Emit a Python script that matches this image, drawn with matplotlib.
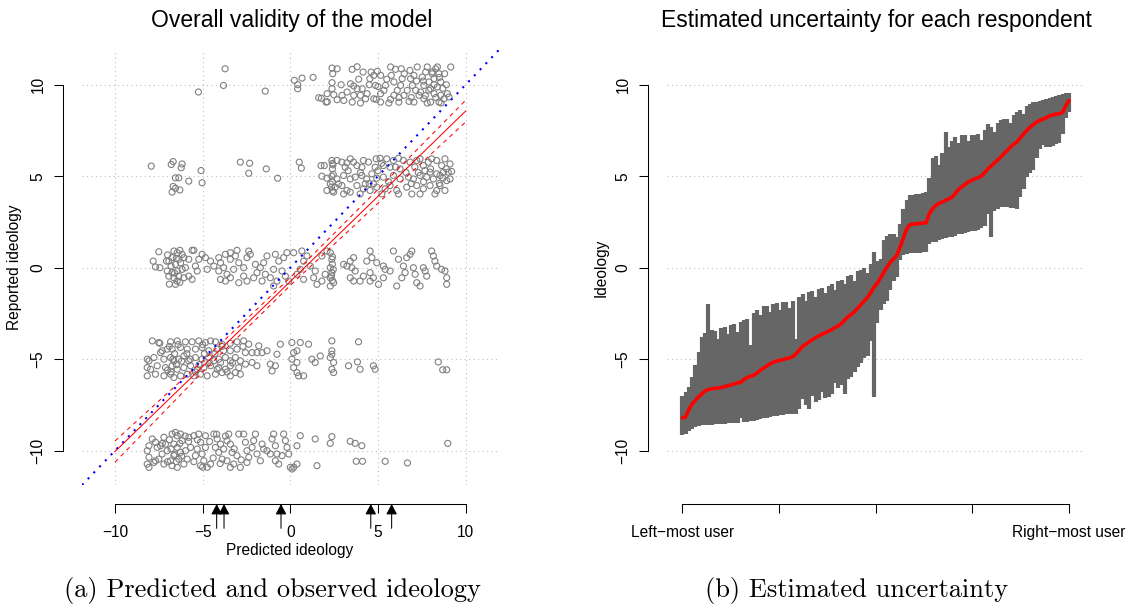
import matplotlib.pyplot as plt
import numpy as np

plt.rcParams['font.family'] = ['Liberation Sans', 'DejaVu Sans']

# ---------------- left panel: predicted vs reported ideology ----------------
# (predicted, reported + jitter), one list per reported level
pts_10 = [
    (-3.72, 10.87), (-3.81, 9.96), (-5.24, 9.60), (-1.43, 9.65), (0.23, 10.24), (0.67, 10.36), (0.42, 10.0),
    (0.42, 9.78), (1.30, 10.40), (1.62, 9.29), (2.04, 9.05), (2.38, 10.91), (2.67, 10.87), (2.42, 10.6),
    (2.38, 10.11), (2.90, 10.0), (2.38, 9.78), (2.48, 9.45), (2.67, 9.18), (3.05, 9.14), (3.53, 10.84),
    (3.81, 10.98), (4.15, 10.69), (4.61, 10.69), (4.76, 10.51), (4.96, 10.73), (5.15, 10.51), (4.54, 10.33),
    (3.43, 10.05), (3.62, 9.93), (3.81, 9.78), (4.10, 9.78), (3.62, 9.42), (4.00, 9.42), (3.53, 9.05),
    (4.38, 9.51), (4.29, 9.23), (4.76, 9.23), (5.15, 9.51), (5.43, 9.96), (5.34, 9.69), (4.86, 9.96),
    (5.72, 10.97), (6.0, 10.84), (6.33, 10.87), (5.76, 10.51), (5.91, 10.15), (6.29, 9.96), (6.10, 9.69),
    (5.91, 9.42), (5.72, 9.20), (5.62, 9.0), (6.19, 9.05), (6.77, 9.09), (6.82, 10.78), (7.24, 10.97),
    (7.05, 10.51), (6.86, 10.33), (6.96, 9.96), (6.67, 9.69), (7.15, 9.69), (7.34, 9.42), (7.62, 9.23),
    (7.81, 10.97), (7.72, 10.69), (8.10, 10.6), (7.53, 10.42), (7.91, 10.15), (7.62, 9.96), (7.43, 9.6),
    (8.0, 9.78), (8.29, 10.87), (8.39, 10.97), (8.48, 10.6), (8.20, 10.33), (8.58, 10.15), (8.39, 9.87),
    (8.20, 9.51), (8.58, 9.42), (8.77, 9.23), (8.48, 9.05), (8.96, 9.51), (9.15, 10.97), (9.05, 9.33),
    (8.0, 9.05), (7.81, 9.0), (7.05, 9.05), (6.48, 9.42), (6.38, 10.33), (5.15, 9.05), (4.0, 9.0),
    (3.24, 9.6), (2.95, 9.42), (2.10, 9.51), (1.77, 9.26), (2.11, 9.07),
    (7.6, 10.2), (7.9, 9.7), (8.2, 10.0), (8.5, 10.4), (8.7, 9.8), (8.3, 9.3), (7.7, 9.4), (8.8, 10.6),
    (6.5, 10.6), (6.9, 9.3), (7.2, 10.2), (5.5, 10.3), (5.0, 9.9), (4.5, 10.0), (3.9, 10.3), (4.9, 9.2),
    (6.2, 9.3), (8.1, 10.7), (8.6, 9.0), (8.9, 10.0),
]
pts_5 = [
    (-7.93, 5.55), (-6.79, 5.64), (-6.68, 5.80), (-6.17, 5.67), (-6.22, 5.46), (-5.09, 5.31), (-6.55, 4.91),
    (-6.36, 4.91), (-5.79, 4.73), (-5.03, 4.64), (-6.68, 4.44), (-6.55, 4.34), (-6.30, 4.25), (-6.74, 4.13),
    (-2.85, 5.77), (-2.32, 5.71), (-1.37, 5.40), (-2.37, 5.16), (-0.72, 4.89), (0.51, 5.77), (0.63, 5.44),
    (1.75, 5.58), (1.94, 5.58), (2.37, 5.86), (2.43, 5.62), (2.66, 5.86), (2.94, 5.77), (3.23, 5.73),
    (3.13, 5.49), (3.42, 5.95), (3.61, 5.77), (3.80, 5.58), (4.17, 5.86), (4.08, 5.49), (4.46, 5.77),
    (4.90, 5.95), (5.12, 5.98), (4.84, 5.49), (5.31, 5.58), (5.50, 5.95), (5.88, 5.86), (6.17, 5.98),
    (5.69, 5.49), (6.45, 5.86), (6.26, 5.40), (6.83, 5.77), (7.21, 5.86), (7.40, 5.95), (7.59, 5.58),
    (7.87, 5.77), (8.06, 5.95), (8.35, 5.86), (8.63, 5.58), (8.82, 5.95), (9.11, 5.67), (7.68, 5.31),
    (7.97, 5.22), (8.35, 5.13), (8.73, 5.22), (9.01, 5.22), (9.20, 5.26), (1.80, 5.0), (2.09, 4.89),
    (2.37, 5.0), (2.66, 4.85), (3.04, 5.04), (3.42, 4.85), (3.70, 4.95), (4.08, 5.04), (4.36, 4.85),
    (4.65, 5.13), (4.93, 4.89), (5.31, 4.95), (5.88, 5.04), (6.26, 4.85), (6.74, 4.95), (7.02, 4.85),
    (7.40, 5.04), (7.78, 4.95), (8.16, 4.85), (8.54, 5.04), (8.92, 4.76), (9.11, 4.85), (2.28, 4.58),
    (2.56, 4.40), (2.09, 4.22), (2.47, 4.13), (2.94, 4.49), (3.23, 4.22), (3.42, 4.13), (3.80, 4.49),
    (4.17, 4.31), (3.98, 4.03), (4.55, 4.22), (4.93, 4.40), (5.22, 4.03), (5.69, 4.49), (6.07, 4.22),
    (6.64, 4.40), (6.93, 4.03), (7.21, 4.49), (7.59, 4.31), (7.97, 4.49), (8.35, 4.22), (8.54, 4.49),
    (8.82, 4.22), (8.25, 4.03), (7.40, 4.03), (6.17, 4.03), (5.41, 4.31), (4.74, 4.58), (4.27, 4.58),
    (3.04, 4.03), (2.75, 4.58),
    (2.4, 5.7), (2.4, 5.4), (2.45, 5.1), (2.4, 4.7), (2.35, 4.4), (2.4, 4.2), (4.0, 5.2), (4.5, 4.6),
    (5.0, 5.3), (5.6, 4.7), (6.0, 5.5), (6.6, 5.2), (7.1, 5.5), (7.6, 4.7), (8.0, 5.4), (8.5, 4.6),
    (8.9, 5.4), (3.3, 5.3), (6.9, 4.6), (7.3, 5.2), (8.7, 4.9), (5.2, 5.7),
]
pts_0 = [
    (-7.50, 0.87), (-7.82, 0.36), (-7.69, 0.04), (-7.44, 0.0), (-7.06, 0.36), (-6.93, 0.36), (-6.74, 0.55),
    (-6.64, 0.91), (-6.45, 0.82), (-6.30, 0.95), (-6.17, 0.73), (-6.36, 0.46), (-6.55, 0.18), (-6.26, 0.27),
    (-6.07, 0.55), (-5.60, 0.95), (-5.50, 0.95), (-5.79, 0.46), (-5.98, 0.0), (-6.17, -0.09), (-6.45, -0.18),
    (-6.74, -0.27), (-6.93, -0.46), (-7.02, -0.18), (-6.64, -0.55), (-6.45, -0.73), (-6.55, -0.91),
    (-6.36, -0.46), (-6.07, -0.55), (-5.79, -0.46), (-5.60, -0.64), (-5.31, -0.18), (-5.41, 0.09),
    (-5.22, 0.46), (-5.03, 0.73), (-4.84, 0.55), (-4.55, 0.36), (-4.74, -0.09), (-4.36, 0.09), (-4.08, 0.55),
    (-3.98, 0.27), (-3.70, 0.73), (-3.42, 0.82), (-3.04, 0.95), (-3.13, 0.64), (-3.42, 0.46), (-3.80, 0.0),
    (-4.08, -0.18), (-3.61, -0.36), (-3.98, -0.64), (-3.70, -0.73), (-3.42, -0.55), (-3.23, -0.09),
    (-2.94, 0.27), (-2.66, 0.0), (-2.47, 0.55), (-2.28, 0.73), (-2.37, 0.91), (-2.66, -0.46), (-2.47, -0.73),
    (-2.94, -0.82), (-2.09, -0.55), (-1.90, -0.27), (-1.99, 0.18), (-1.71, 0.0), (-1.52, 0.27), (-1.33, 0.64),
    (-1.42, -0.36), (-1.61, -0.73), (-1.14, -0.55), (-0.95, -0.09), (-0.85, 0.73), (-0.66, 0.36),
    (-0.38, 0.55), (-0.19, 0.82), (0.19, 0.82), (-0.47, -0.18), (-0.28, -0.46), (-0.76, -0.73), (-0.95, -1.0),
    (-0.09, -0.73), (0.38, -0.36), (0.57, -0.09), (0.76, 0.36), (0.95, 0.64), (0.66, 0.91), (1.14, 0.09),
    (1.33, -0.55), (1.42, -0.18), (1.80, 0.64), (2.09, 0.91), (2.28, 0.82), (2.37, 0.46), (2.28, 0.0),
    (2.37, -0.27), (2.28, -0.55), (2.47, -0.82), (2.28, -1.0), (1.99, -0.36), (1.80, -0.73), (1.52, -0.91),
    (0.76, -0.64), (3.04, 0.18), (3.23, 0.09), (3.42, 0.36), (3.61, 0.55), (3.51, 0.0), (3.70, -0.18),
    (3.42, -0.55), (3.61, -0.73), (3.98, -0.73), (4.17, -0.46), (4.36, 0.36), (4.55, 0.91), (4.65, 0.55),
    (4.93, 0.27), (4.55, -0.27), (4.74, -0.55), (4.55, -0.73), (5.03, -0.91), (5.31, 0.09), (5.41, -0.09),
    (5.88, 0.91), (6.17, 0.46), (6.45, 0.09), (6.64, 0.55), (6.83, 0.73), (6.93, 0.91), (7.02, 0.0),
    (6.55, -0.27), (6.36, -0.55), (6.07, -1.0), (7.12, -0.36), (7.21, -0.82), (7.59, 0.0), (7.69, -0.18),
    (7.78, -0.46), (8.06, 0.91), (8.16, 0.64), (8.25, 0.36), (8.35, 0.09), (8.63, -0.09), (8.82, -0.18),
    (8.92, -0.55), (8.92, -0.91), (7.40, -1.0), (5.31, -0.55), (5.69, -0.18),
    (2.4, 0.6), (2.4, 0.2), (2.45, -0.1), (2.35, -0.45), (2.4, -0.7), (-6.8, 0.1), (-6.6, -0.3),
    (-7.0, 0.7), (-6.3, -0.8), (-6.9, -0.9), (-6.5, 0.5),
]
pts_m5 = [
    (-7.87, -4.0), (-7.50, -4.09), (-7.44, -4.13), (-6.83, -4.05), (-6.45, -4.0), (-5.98, -4.05),
    (-5.60, -4.05), (-5.22, -4.0), (-4.84, -4.09), (-4.55, -4.0), (-4.27, -4.05), (-3.89, -4.18),
    (-3.42, -4.13), (-3.04, -4.05), (-2.66, -4.0), (-2.37, -4.18), (-1.80, -4.27), (-1.33, -4.54),
    (-0.76, -4.73), (-0.57, -4.18), (-7.31, -4.54), (-7.40, -4.64), (-7.02, -4.45), (-6.74, -4.45),
    (-6.26, -4.36), (-5.88, -4.45), (-5.41, -4.45), (-5.03, -4.36), (-4.65, -4.54), (-4.17, -4.45),
    (-3.80, -4.54), (-3.42, -4.54), (-3.04, -4.45), (-2.56, -4.64), (-2.18, -4.64), (-1.90, -4.64),
    (-1.61, -4.64), (-8.16, -5.0), (-8.06, -5.09), (-7.78, -4.91), (-7.21, -5.0), (-6.83, -4.91),
    (-6.64, -5.09), (-6.36, -5.0), (-6.07, -4.82), (-5.79, -5.09), (-5.41, -4.91), (-5.03, -5.0),
    (-4.65, -4.91), (-4.36, -5.09), (-4.08, -5.0), (-3.70, -4.91), (-3.42, -5.09), (-3.13, -4.91),
    (-2.85, -5.09), (-8.16, -5.46), (-7.97, -5.55), (-7.59, -5.36), (-7.12, -5.46), (-6.74, -5.36),
    (-6.45, -5.55), (-6.07, -5.46), (-5.69, -5.36), (-5.31, -5.55), (-4.93, -5.46), (-4.55, -5.36),
    (-4.08, -5.46), (-3.70, -5.55), (-3.42, -5.36), (-2.94, -5.46), (-2.56, -5.27), (-2.18, -5.18),
    (-1.90, -5.36), (-1.14, -5.27), (-1.04, -5.64), (-0.85, -5.36), (-8.16, -5.91), (-7.69, -5.82),
    (-7.21, -5.91), (-6.83, -5.82), (-6.64, -6.0), (-6.26, -5.91), (-5.88, -5.82), (-5.50, -5.91),
    (-5.12, -5.82), (-4.74, -5.91), (-4.27, -5.82), (-3.89, -5.73), (-3.42, -5.91), (-3.13, -5.73),
    (-2.85, -5.82), (-4.17, -5.55), (-3.98, -5.18), (0.09, -4.09), (0.57, -4.09), (1.04, -4.18),
    (2.37, -4.0), (3.89, -4.05), (0.19, -4.64), (0.38, -4.54), (2.37, -4.54), (2.37, -4.73), (0.09, -5.0),
    (0.38, -5.18), (1.23, -5.0), (1.42, -5.18), (1.71, -4.82), (2.28, -4.91), (2.47, -5.18), (3.32, -5.36),
    (3.83, -5.15), (3.98, -5.55), (4.74, -5.36), (4.84, -5.55), (0.19, -5.46), (0.38, -5.73), (0.47, -5.91),
    (0.76, -5.91), (2.37, -5.55), (2.47, -5.73), (8.44, -5.15), (8.69, -5.58), (8.92, -5.58),
    (-6.9, -4.3), (-6.6, -4.7), (-6.5, -5.3), (-6.8, -5.7), (-6.2, -5.1), (-5.9, -4.7), (-5.4, -5.7),
    (-5.0, -4.2), (-4.6, -5.2), (-4.3, -4.7), (-3.9, -4.3), (-3.6, -5.7), (-6.7, -5.0), (-6.4, -4.2),
    (-7.0, -5.6), (-5.7, -5.0), (-5.2, -5.3), (-4.9, -4.7), (-3.3, -5.2), (-2.7, -4.3),
]
pts_m10 = [
    (-7.87, -9.36), (-8.06, -9.73), (-8.16, -10.0), (-8.06, -10.36), (-8.16, -10.73), (-8.06, -10.91),
    (-7.69, -9.54), (-7.59, -9.82), (-7.40, -9.73), (-7.21, -9.27), (-7.12, -9.64), (-7.02, -10.0),
    (-7.31, -10.18), (-7.69, -10.55), (-7.50, -10.46), (-7.78, -10.64), (-7.21, -10.73), (-6.83, -10.55),
    (-6.74, -9.09), (-6.55, -9.0), (-6.45, -9.18), (-6.26, -9.09), (-6.17, -9.45), (-6.64, -9.64),
    (-6.45, -9.82), (-6.26, -10.09), (-6.64, -10.27), (-6.36, -10.46), (-6.74, -10.82), (-6.45, -10.91),
    (-6.07, -10.73), (-5.88, -10.46), (-5.98, -10.0), (-5.69, -9.82), (-5.79, -9.27), (-5.50, -9.18),
    (-5.22, -9.09), (-5.12, -9.54), (-5.31, -9.91), (-5.41, -10.27), (-5.03, -10.18), (-4.84, -9.82),
    (-4.93, -10.55), (-5.12, -10.82), (-4.74, -10.91), (-4.55, -10.73), (-4.84, -9.18), (-4.36, -9.09),
    (-4.17, -9.36), (-3.98, -9.64), (-4.27, -9.82), (-4.08, -10.09), (-3.80, -9.91), (-3.89, -10.46),
    (-3.61, -10.55), (-3.51, -9.09), (-3.61, -9.45), (-3.42, -9.64), (-3.32, -10.09), (-3.04, -10.27),
    (-3.23, -10.73), (-3.42, -10.91), (-2.85, -10.91), (-2.94, -9.09), (-2.66, -9.09), (-2.56, -9.54),
    (-2.47, -10.0), (-2.37, -10.36), (-2.47, -10.64), (-2.18, -9.82), (-1.99, -9.09), (-2.09, -9.45),
    (-1.90, -10.18), (-1.71, -10.55), (-1.61, -9.64), (-1.52, -9.91), (-1.33, -10.0), (-1.14, -10.18),
    (-0.95, -9.09), (-1.04, -9.36), (-0.85, -9.73), (-0.76, -10.18), (-0.85, -10.55), (-0.66, -10.73),
    (-0.47, -10.27), (-0.38, -9.09), (-0.28, -9.45), (-0.19, -9.82), (-0.09, -10.18), (0.0, -10.91),
    (0.38, -9.73), (0.57, -9.18), (0.38, -10.73), (1.42, -9.36), (1.52, -10.82), (2.37, -9.23),
    (2.28, -9.60), (3.42, -9.49), (3.70, -9.60), (4.08, -9.73), (3.76, -10.58), (4.12, -10.58),
    (5.41, -10.58), (6.68, -10.67), (8.98, -9.60), (0.1, -11.0), (0.2, -10.9),
    (-6.9, -9.4), (-6.6, -10.2), (-6.3, -9.6), (-7.0, -10.6), (-6.5, -10.6), (-6.2, -10.3), (-5.8, -9.5),
    (-5.5, -10.6), (-5.3, -9.4), (-4.6, -9.5), (-4.4, -10.4), (-4.0, -10.7), (-3.7, -9.2), (-3.2, -9.9),
    (-2.8, -10.5), (-6.8, -9.9), (-7.3, -9.6), (-6.0, -9.2), (-5.0, -10.9), (-4.2, -9.1),
]

# fitted line with its band
fit_x = [-10, -5, 0, 5, 10]
fit_y = [-10.05, -5.40, -0.75, 3.90, 8.56]
fit_lo = [-10.63, -5.70, -0.97, 3.52, 7.96]
fit_hi = [-9.47, -5.10, -0.53, 4.28, 9.15]

# arrows under the x axis
party_pos = [-4.20, -3.78, -0.53, 4.59, 5.78]

# ---------------- right panel: uncertainty per respondent (sorted) ----------------
est = [-8.20, -8.16, -7.75, -7.45, -7.25, -7.05, -6.90, -6.73, -6.66, -6.62,
       -6.59, -6.57, -6.55, -6.50, -6.45, -6.40, -6.35, -6.30, -6.25, -6.10,
       -6.00, -5.93, -5.87, -5.75, -5.60, -5.48, -5.37, -5.25, -5.17, -5.10,
       -5.06, -5.02, -4.97, -4.92, -4.86, -4.70, -4.50, -4.30, -4.18, -4.05,
       -3.93, -3.82, -3.72, -3.64, -3.55, -3.47, -3.38, -3.27, -3.18, -3.05,
       -2.85, -2.68, -2.55, -2.40, -2.20, -2.00, -1.82, -1.62, -1.35, -1.05,
       -0.85, -0.55, -0.25, 0.03, 0.30, 0.49, 0.67, 1.13, 1.60, 2.10,
       2.35, 2.38, 2.40, 2.42, 2.44, 2.45, 2.95, 3.22, 3.40, 3.52,
       3.59, 3.68, 3.76, 3.86, 4.05, 4.28, 4.42, 4.55, 4.68, 4.78,
       4.86, 4.92, 5.00, 5.20, 5.40, 5.55, 5.72, 5.88, 6.05, 6.25,
       6.41, 6.60, 6.75, 6.88, 7.10, 7.30, 7.50, 7.68, 7.82, 7.96,
       8.05, 8.12, 8.20, 8.30, 8.34, 8.40, 8.41, 8.50, 8.85, 9.14]
hi = [-7.0, -6.8, -6.5, -6.0, -5.3, -4.6, -3.8, -3.55, -1.97, -3.4,
      -3.45, -3.9, -3.3, -3.25, -3.6, -3.15, -3.1, -3.5, -2.95, -2.88,
      -2.8, -4.2, -2.5, -2.33, -2.6, -2.1, -2.1, -2.4, -2.0, -1.95,
      -2.3, -1.88, -1.85, -2.2, -1.8, -3.9, -1.6, -1.45, -1.8, -1.35,
      -1.25, -1.6, -1.15, -1.1, -1.4, -1.0, -0.9, -1.2, -0.72, -0.65,
      -0.9, -0.45, -0.38, -0.7, -0.2, -0.1, 0.0, -0.3, 0.2, 0.85,
      0.35, 0.5, 1.5, 1.75, 1.85, 1.86, 1.7, 2.4, 3.2, 3.7,
      3.95, 4.0, 4.02, 4.04, 4.08, 4.12, 4.9, 6.0, 6.1, 5.6,
      6.25, 7.41, 6.6, 6.9, 7.15, 6.8, 7.23, 7.23, 6.9, 7.25,
      7.25, 7.3, 7.0, 7.5, 7.86, 7.7, 7.4, 7.9, 8.05, 8.1,
      8.15, 7.9, 8.35, 8.5, 8.6, 8.4, 8.85, 8.95, 9.05, 9.05,
      9.1, 9.15, 9.2, 9.28, 9.32, 9.38, 9.45, 9.5, 9.52, 9.55]
lo = [-9.15, -9.1, -8.95, -8.8, -8.7, -8.65, -8.62, -8.6, -8.58, -8.57,
      -8.56, -8.55, -8.54, -8.53, -8.5, -8.49, -8.48, -8.47, -8.2, -8.45,
      -8.44, -8.4, -8.36, -8.32, -8.28, -8.24, -8.2, -8.15, -8.12, -8.08,
      -8.05, -8.03, -8.01, -8.0, -7.98, -7.98, -7.7, -7.2, -7.5, -7.7,
      -7.0, -7.34, -7.25, -6.8, -7.1, -7.05, -6.9, -6.3, -6.6, -6.4,
      -6.9, -6.1, -6.0, -5.7, -5.4, -5.2, -4.95, -4.8, -4.0, -7.07,
      -3.0, -2.3, -2.0, -1.8, -1.2, -0.7, -0.5, 0.4, 0.7, 0.76,
      0.78, 0.8, 0.8, 0.82, 0.84, 0.85, 1.3, 1.38, 1.42, 1.5,
      1.55, 1.6, 1.66, 1.7, 1.75, 1.82, 1.86, 1.9, 1.95, 1.98,
      2.0, 2.05, 2.15, 2.3, 2.95, 1.67, 3.1, 3.2, 3.3, 3.31,
      3.3, 3.28, 3.25, 3.22, 3.86, 4.3, 4.95, 5.2, 5.32, 6.0,
      6.5, 6.7, 6.6, 6.59, 6.65, 6.75, 6.8, 7.3, 8.2, 8.5]
rank = np.arange(len(est)) / (len(est) - 1)

# ---------------- figure ----------------
W, H = 1128, 607
fig = plt.figure(figsize=(W / 100, H / 100), dpi=100)


def px_box(x0, y0, x1, y1):
    return [x0 / W, 1 - y1 / H, (x1 - x0) / W, (y1 - y0) / H]


def fx(x):
    return x / W


def fy(y):
    return 1 - y / H


ax1 = fig.add_axes(px_box(82.0, 50.3, 498.6, 485.1))
ax2 = fig.add_axes(px_box(666.9, 50.3, 1084.5, 485.1))

grid_kw = dict(color='#bebebe', lw=0.8, linestyle=(0, (1, 3)), zorder=0)
ticks = [-10, -5, 0, 5, 10]
tick_lab = ['\u221210', '\u22125', '0', '5', '10']


def style_axes(ax):
    for s in ('top', 'right'):
        ax.spines[s].set_visible(False)
    for s in ('left', 'bottom'):
        ax.spines[s].set_linewidth(0.75)
    ax.spines['left'].set_position(('outward', 13.4))
    ax.spines['bottom'].set_position(('outward', 13.6))
    ax.spines['left'].set_bounds(-10, 10)
    ax.set_ylim(-11.88, 11.88)
    ax.set_yticks(ticks, labels=tick_lab, rotation=90, va='center')
    ax.tick_params(direction='out', length=6.8, width=0.75, labelsize=11.2, colors='black')
    ax.tick_params(axis='y', pad=6)
    ax.tick_params(axis='x', pad=8.5)
    for y in ticks:
        ax.axhline(y, **grid_kw)


# left panel
style_axes(ax1)
ax1.set_xlim(-11.88, 11.88)
ax1.spines['bottom'].set_bounds(-10, 10)
ax1.set_xticks(ticks, labels=tick_lab)
for x in ticks:
    ax1.axvline(x, **grid_kw)

for pts in (pts_10, pts_5, pts_0, pts_m5, pts_m10):
    arr = np.array(pts)
    ax1.scatter(arr[:, 0], arr[:, 1], s=19, facecolors='none', edgecolors='#808080',
                linewidths=0.8, zorder=2)

ax1.axline((0, 0), slope=1, color='blue', lw=1.5, linestyle=(0, (1, 3)), zorder=3)
ax1.plot(fit_x, fit_y, color='red', lw=0.75, zorder=4)
ax1.plot(fit_x, fit_lo, color='red', lw=0.75, linestyle=(0, (4, 4)), zorder=4)
ax1.plot(fit_x, fit_hi, color='red', lw=0.75, linestyle=(0, (4, 4)), zorder=4)

for xv in party_pos:
    ax1.annotate('', xy=(xv, -0.0435), xytext=(xv, -0.0994),
                 xycoords=('data', 'axes fraction'), textcoords=('data', 'axes fraction'),
                 arrowprops=dict(arrowstyle='-|>,head_length=0.63,head_width=0.33',
                                 mutation_scale=10, color='black', lw=0.75,
                                 shrinkA=0, shrinkB=0),
                 annotation_clip=False)

# right panel
style_axes(ax2)
ax2.set_xlim(-0.04, 1.04)
ax2.spines['bottom'].set_bounds(0, 1)
ax2.set_xticks([0, 0.25, 0.5, 0.75, 1.0],
               labels=['Left\u2212most user', '', '', '', 'Right\u2212most user'])
ax2.vlines(rank, lo, hi, colors='#666666', linewidth=3.0, capstyle='butt', zorder=2)
ax2.plot(rank, est, color='red', lw=2.6, solid_capstyle='round', zorder=3)

# texts
fig.text(fx(291.3), fy(27.3), 'Overall validity of the model', ha='center', va='baseline', fontsize=16.5)
fig.text(fx(876.0), fy(27.3), 'Estimated uncertainty for each respondent', ha='center', va='baseline',
         fontsize=16.5)
fig.text(fx(14.6), fy(267.7), 'Reported ideology', rotation=90, ha='center', va='center', fontsize=11.2)
fig.text(fx(601.0), fy(267.7), 'Ideology', rotation=90, ha='center', va='center', fontsize=11.2)
fig.text(fx(290.0), fy(555.0), 'Predicted ideology', ha='center', va='baseline', fontsize=11.2)
fig.text(fx(272.0), fy(597.5), '(a) Predicted and observed ideology', family='cmr10', fontsize=19,
         ha='center', va='baseline')
fig.text(fx(857.0), fy(597.5), '(b) Estimated uncertainty', family='cmr10', fontsize=19,
         ha='center', va='baseline')

fig.savefig('out.png', dpi=100)
